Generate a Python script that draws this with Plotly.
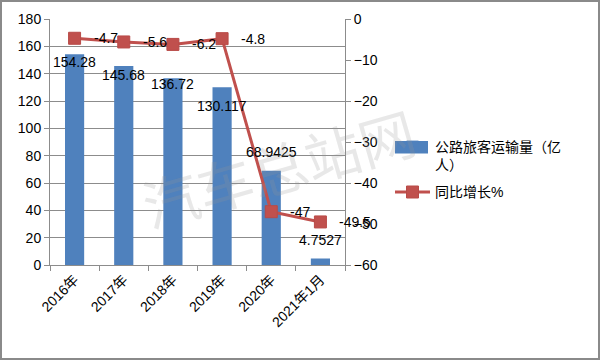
import plotly.graph_objects as go

# ---- data ----
categories = ["2016年", "2017年", "2018年", "2019年", "2020年", "2021年1月"]
passenger_volume = [154.28, 145.68, 136.72, 130.117, 68.9425, 4.7527]
yoy_growth = [-4.7, -5.6, -6.2, -4.8, -47, -49.5]
bar_label_text = ["154.28", "145.68", "136.72", "130.117", "68.9425", "4.7527"]
line_label_text = ["-4.7", "-5.6", "-6.2", "-4.8", "-47", "-49.5"]
left_ticks = [0, 20, 40, 60, 80, 100, 120, 140, 160, 180]
right_ticks = [0, -10, -20, -30, -40, -50, -60]
bar_name = "公路旅客运输量（亿<br>人）"
line_name = "同比增长%"

BLUE = "#4F81BD"
RED = "#C0504D"
GRID = "#8C8C8C"
FONT = "Liberation Sans, Noto Sans CJK SC, sans-serif"

W, H = 600, 360
L, R, T, B = 50, 255, 19, 95
pw, ph = W - L - R, H - T - B


def px(xp):
    return (xp - L) / pw


def py(yp):
    return (H - B - yp) / ph


fig = go.Figure()
fig.add_trace(go.Bar(x=categories, y=passenger_volume, name=bar_name,
                     legendgroup="volume",
                     marker=dict(color=BLUE, line=dict(width=0)), width=0.39,
                     yaxis="y"))
fig.add_trace(go.Scatter(x=categories, y=yoy_growth, name=line_name, yaxis="y2",
                         legendgroup="growth",
                         mode="lines+markers",
                         line=dict(color=RED, width=3),
                         marker=dict(symbol="square", size=12, color=RED,
                                     line=dict(color="#B84A47", width=1))))

annotations = []
# bar value labels (vertical offsets mimic the original placement)
bar_label_dy = [-8, -9, -6, -19, 19, 19]
for c, v, t, dy in zip(categories, passenger_volume, bar_label_text, bar_label_dy):
    annotations.append(dict(x=c, y=v, xref="x", yref="y", text=t, showarrow=False,
                            yshift=dy, font=dict(size=14, color="#000", family=FONT)))
# line value labels
for c, v, t in zip(categories, yoy_growth, line_label_text):
    annotations.append(dict(x=c, y=v, xref="x", yref="y2", text=t, showarrow=False,
                            xanchor="left", xshift=17,
                            font=dict(size=14, color="#000", family=FONT)))
# watermark
annotations.append(dict(x=px(278), y=py(166), xref="paper", yref="paper",
                        xanchor="center", yanchor="middle",
                        text="汽车总站网", showarrow=False, textangle=-16,
                        font=dict(size=56, color="rgba(150,150,150,0.22)",
                                  family="Noto Sans CJK SC")))

shapes = [
    dict(type="rect", xref="paper", yref="paper",
         x0=px(1), x1=px(W - 1), y0=py(H - 1), y1=py(1),
         line=dict(color="#8A8A8A", width=2), fillcolor="rgba(0,0,0,0)",
         layer="above"),
    # wider legend swatch for the bar series
    dict(type="rect", xref="paper", yref="paper",
         x0=px(395), x1=px(428), y0=py(153.5), y1=py(141),
         line=dict(width=0), fillcolor=BLUE, layer="above"),
]

fig.update_layout(
    width=W, height=H,
    margin=dict(l=L, r=R, t=T, b=B, pad=0),
    paper_bgcolor="white", plot_bgcolor="white",
    font=dict(family=FONT, size=14, color="#000"),
    xaxis=dict(type="category", range=[-0.5, 5.5], tickangle=-45,
               ticks="outside", ticklen=5, tickcolor=GRID, tickson="boundaries",
               showline=True, linecolor=GRID, linewidth=1, showgrid=False,
               tickfont=dict(size=14)),
    yaxis=dict(range=[0, 180], tickvals=left_ticks, ticks="outside", ticklen=5,
               tickcolor=GRID, showline=True, linecolor=GRID, linewidth=1,
               showgrid=True, gridcolor=GRID, gridwidth=1, zeroline=False,
               tickfont=dict(size=14)),
    yaxis2=dict(range=[-60, 0], tickvals=right_ticks, overlaying="y", side="right",
                ticks="outside", ticklen=5, tickcolor=GRID, showline=True,
                linecolor=GRID, linewidth=1, showgrid=False, zeroline=False,
                tickfont=dict(size=14)),
    legend=dict(x=px(390), y=py(131), xanchor="left", yanchor="top",
                bgcolor="rgba(0,0,0,0)", font=dict(size=14, family=FONT),
                itemwidth=35, tracegroupgap=6, valign="top"),
    annotations=annotations,
    shapes=shapes,
)

fig.write_html("out.html", config={"displayModeBar": False},
               post_script="document.body.style.margin='0';")
